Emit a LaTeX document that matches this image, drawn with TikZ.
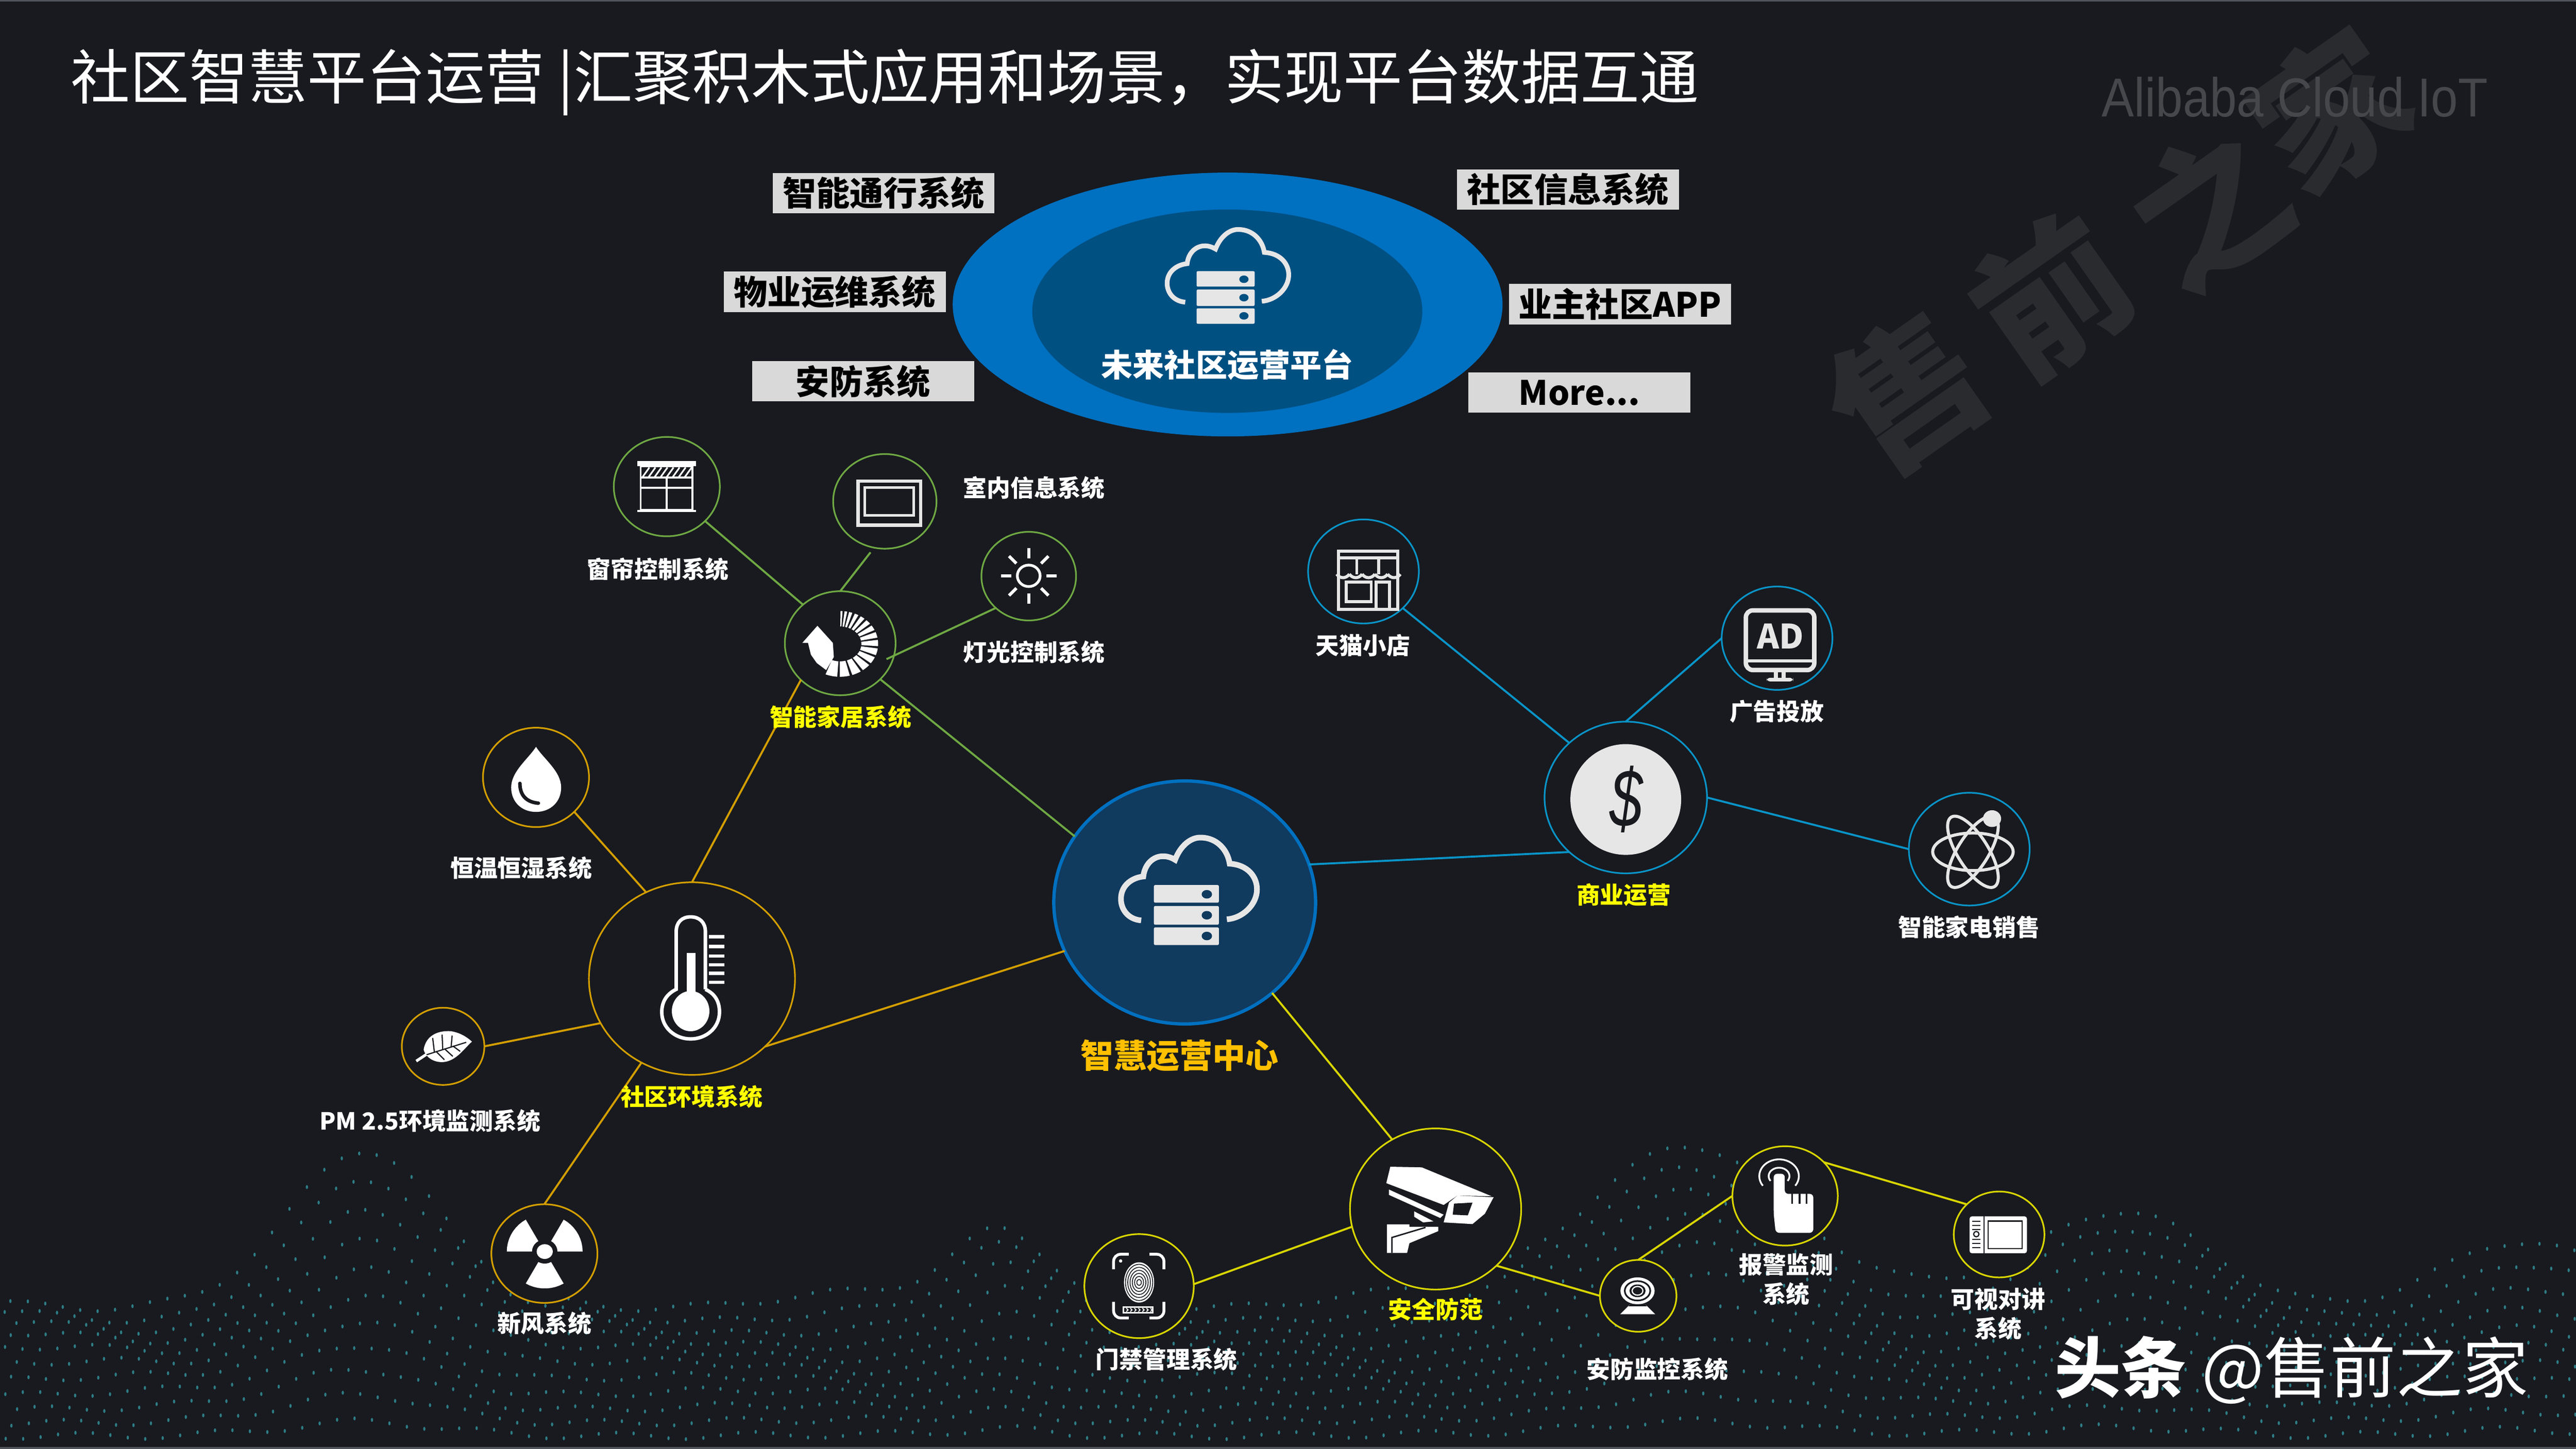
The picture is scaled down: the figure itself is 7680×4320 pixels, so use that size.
\documentclass[tikz,border=0pt]{standalone}
\usepackage{fontspec}
\usepackage{graphicx}
\usetikzlibrary{shapes.geometric}
\setmainfont{Noto Sans CJK SC}
\newfontfamily\latinf{Liberation Sans}
\definecolor{bgc}{HTML}{181A1F}
\definecolor{topblue}{HTML}{0070C0}
\definecolor{topin}{HTML}{005082}
\definecolor{cenfill}{HTML}{103A5E}
\definecolor{boxc}{HTML}{D9D9D9}
\definecolor{grn}{HTML}{6FA843}
\definecolor{org}{HTML}{D39E00}
\definecolor{blu}{HTML}{0A94C8}
\definecolor{ylw}{HTML}{D9D500}
\definecolor{lab}{HTML}{FFFF00}
\definecolor{gold}{HTML}{FFC000}
\definecolor{icw}{HTML}{E6E6E6}
\definecolor{wmc}{HTML}{2A2B2F}
\definecolor{alic}{HTML}{45474B}
\definecolor{dotc}{HTML}{2E7C85}
\definecolor{edgec}{HTML}{50535A}
\tikzset{
  ell/.style 2 args={ellipse,inner sep=0pt,outer sep=0pt,minimum width=#1*0.02cm,minimum height=#2*0.02cm,fill=bgc},
  ngrn/.style={draw=grn,line width=1.4pt},
  norg/.style={draw=org,line width=1.4pt},
  nblu/.style={draw=blu,line width=1.4pt},
  nylw/.style={draw=ylw,line width=1.4pt},
  cgrn/.style={draw=grn,line width=1.7pt},
  corg/.style={draw=org,line width=1.7pt},
  cblu/.style={draw=blu,line width=1.7pt},
  cylw/.style={draw=ylw,line width=1.7pt},
  boxlab/.style={fill=boxc,text=black,inner sep=0pt,minimum width=6.61cm,minimum height=1.2cm,font=\fontsize{28.5}{32}\selectfont\bfseries},
  whitelab/.style={text=white,inner sep=0pt,align=center,font=\fontsize{20}{24.5}\selectfont\bfseries},
  yellab/.style={text=lab,inner sep=0pt,align=center,font=\fontsize{20}{24.5}\selectfont\bfseries},
  wm/.style={text=wmc,inner sep=0pt,font=\fontsize{126}{126}\selectfont\bfseries},
  graystroke/.style={draw=icw,line width=2.6pt},
  declare function={gs(\x,\m,\s)=exp(max(-8,0-((\x-\m)/\s)*((\x-\m)/\s)));}
}
\newcommand\wdg[9][white]{\fill[#1] plot[domain=#8:#9,samples=10] ({#2+#4*cos(\x)},{#3-#5*sin(\x)}) -- plot[domain=#9:#8,samples=6] ({#2+#6*cos(\x)},{#3-#7*sin(\x)}) -- cycle;}
\newcommand\cloudicon[6]{%
  \begin{scope}[shift={(#1,#2)},xscale=#3,yscale=#4]
    \draw[icw,line width=#6]
      (-192,25) .. controls (-250,20) and (-280,-30) .. (-278,-80)
      .. controls (-276,-140) and (-230,-175) .. (-183,-180)
      .. controls (-175,-260) and (-110,-300) .. (-48,-258)
      .. controls (-25,-325) and (20,-365) .. (64,-362)
      .. controls (130,-360) and (175,-305) .. (184,-240)
      .. controls (260,-235) and (300,-180) .. (300,-120)
      .. controls (300,-50) and (240,15) .. (172,20);
    \foreach \ya/\yb/\yc in {-140/-58/-97,-42/45/1,58/140/98}{
      \fill[icw,rounded corners=1pt] (-138,\ya) rectangle (138,\yb);
      \fill[#5] (87,\yc) ellipse (22 and 20);
    }
  \end{scope}}
\begin{document}
\begin{tikzpicture}[x=0.01cm,y=-0.01cm]
\useasboundingbox (0,0) rectangle (7680,4320);
\fill[bgc] (0,0) rectangle (7680,4320);
\fill[edgec] (0,0) rectangle (7680,5);
\fill[edgec] (0,4314) rectangle (7680,4320);
% dotted terrain
\foreach \j in {1,...,11}{
  \foreach \i in {0,...,147}{
    \pgfmathsetmacro\X{\i*52+mod(\j*17,52)}
    \pgfmathsetmacro\E{470+430*gs(\X,1084,300)+200*gs(\X,2990,180)+500*gs(\X,5050,420)+260*gs(\X,6350,350)+150*gs(\X,7500,300)}
    \pgfmathsetmacro\Y{4320-\E*\j/11.5+30*sin(\X*0.22+\j*35)*\j/11+10*sin(\X*0.9+\j*50)}
    \fill[dotc] (\X,\Y) ellipse (3.5 and 6);
  }
}
% watermark
\node[wm,rotate=35] (wma) at (5684,1167) {售};
\node[wm,rotate=35] (wmb) at (6115,880) {前};
\node[wm,rotate=35] (wmc) at (6585,617) {之};
\node[wm,rotate=35] (wmd) at (6945,330) {家};
\node[text=alic,inner sep=0pt,anchor=center] (ali) at (6842,290) {\latinf\fontsize{46.5}{50}\selectfont\scalebox{.885}[1]{Alibaba Cloud IoT}};
% title
\node[text=white,inner sep=0pt,anchor=west] (title) at (210,245) {\fontsize{50.2}{56}\selectfont 社区智慧平台运营 |汇聚积木式应用和场景，实现平台数据互通};
% top platform
\node[ell={819}{393},fill=topblue] (plato) at (3660,908) {};
\node[ell={581}{303},fill=topin] (plati) at (3659,928) {};
\cloudicon{3654}{887}{.627}{.56}{topin}{4pt}
\node[text=white,inner sep=0pt,font=\fontsize{26.7}{30}\selectfont\bfseries] (platl) at (3659,1088) {未来社区运营平台};
\node[boxlab] (ba) at (2634.5,576) {智能通行系统};
\node[boxlab] (bb) at (4674.5,565) {社区信息系统};
\node[boxlab] (bc) at (2489,870) {物业运维系统};
\node[boxlab] (bd) at (4829.5,907) {业主社区APP};
\node[boxlab] (be) at (2573.5,1137) {安防系统};
\node[boxlab] (bf) at (4709,1171) {More...};
% central
\node[ell={390}{362},fill=cenfill,draw=topblue,line width=2.8pt] (center) at (3532,2691) {};
% nodes
\node[ell={158}{148},ngrn] (curtain) at (1988,1451) {};
\node[ell={154}{141},ngrn] (indoor) at (2638,1495) {};
\node[ell={141}{132},ngrn] (light) at (3067,1718) {};
\node[ell={165}{155},ngrn] (home) at (2505,1918) {};
\node[ell={307}{287},norg] (env) at (2063,2918) {};
\node[ell={158}{148},norg] (humid) at (1598,2318) {};
\node[ell={123}{115},norg] (pm) at (1321,3120) {};
\node[ell={158}{147},norg] (fresh) at (1623,3738) {};
\node[ell={165}{155},nblu] (shop) at (4065,1704) {};
\node[ell={165}{154},nblu] (ad) at (5298,1903) {};
\node[ell={242}{226},nblu] (biz) at (4847,2378) {};
\node[ell={180}{168},nblu] (appl) at (5871,2532) {};
\node[ell={255}{240},nylw] (sec) at (4280,3605) {};
\node[ell={163}{155},nylw] (door) at (3396,3835) {};
\node[ell={114}{107},nylw] (cam) at (4884,3864) {};
\node[ell={157}{148},nylw] (alarm) at (5322,3566) {};
\node[ell={135}{128},nylw] (intc) at (5960,3681) {};
% connectors
\draw[cgrn] (curtain.-42.6) -- (home.134);
\draw[cgrn,shorten <=5pt] (indoor.-103) -- (home.90);
\draw[cgrn,shorten >=-7pt] (light.-136.5) -- (home.-13.6);
\draw[cgrn] (home.-42.8) -- (center.149.7);
\draw[corg] (env.90) -- (home.-137);
\draw[corg] (humid.-42.3) -- (env.118.5);
\draw[corg] (pm.0) -- (env.-154.6);
\draw[corg] (fresh.90) -- (env.-121.9);
\draw[corg] (env.-43) -- (center.-158.1);
\draw[cblu] (shop.-43.3) -- (biz.136.9);
\draw[cblu] (ad.180) -- (biz.90);
\draw[cblu] (biz.0) -- (appl.180);
\draw[cblu] (center.17.6) -- (biz.-136.9);
\draw[cylw] (center.-46.5) -- (sec.122.8);
\draw[cylw] (door.2.5) -- (sec.-168);
\draw[cylw] (sec.-43.2) -- (cam.180);
\draw[cylw] (cam.90) -- (alarm.180);
\draw[cylw] (alarm.41) -- (intc.137);
% central cloud
\cloudicon{3537}{2728.5}{.7015}{.638}{cenfill}{4.8pt}
% curtain icon
\fill[white] (1900,1374) rectangle (2075,1390);
\fill[white] (1900,1521) rectangle (2075,1526);
\draw[white,line width=1.7pt] (1910,1390) rectangle (2065,1521);
\draw[white,line width=1.7pt] (1910,1424) -- (2065,1424) (1910,1455) -- (2065,1455) (1987,1424) -- (1987,1521);
\foreach \h in {1916,1934,...,2044}{\draw[white,line width=1.4pt] (\h,1422) -- (\h+20,1394);}
% screen icon
\draw[icw,line width=2.8pt] (2558,1435) rectangle (2745,1566);
\draw[icw,line width=2.4pt] (2578,1454) rectangle (2724,1537);
% sun icon
\draw[white,line width=2.3pt] (3067,1717) ellipse (34 and 32);
\foreach \a in {0,45,...,315}{\draw[white,line width=2.6pt] ({3067+52*cos(\a)},{1717-52*sin(\a)}) -- ({3067+83*cos(\a)},{1717-83*sin(\a)});}
% smart home icon
\foreach \sa/\sb in {248/266,270/285,289/303,307/320,324/336,340/352,356/367,371/381,385/394,398/406,410/417,421/427,431/436,439/443,446/449}{
  \wdg{2504}{1920}{114}{98}{64}{52}{\sa}{\sb}
}
\fill[white] (2409,1917) -- (2417.5,1952) -- (2435,1977) -- (2463,1998) -- (2486,1959) -- (2483,1917) -- cycle;
\fill[white] (2392,1917) -- (2437,1866) -- (2483,1917) -- cycle;
% drop icon
\fill[white] (1598,2227) .. controls (1620,2262) and (1673,2300) .. (1673,2348) .. controls (1673,2392) and (1640,2421) .. (1598,2421) .. controls (1556,2421) and (1524,2392) .. (1524,2348) .. controls (1524,2300) and (1576,2262) .. (1598,2227) -- cycle;
\draw[bgc,line width=3pt,line cap=round] (1550,2336) .. controls (1550,2372) and (1570,2392) .. (1605,2395);
% thermometer
\draw[white,line width=3pt] (2103,2950) -- (2103,2778) .. controls (2103,2750) and (2085,2734) .. (2059,2734) .. controls (2033,2734) and (2016,2750) .. (2016,2778) -- (2016,2950) .. controls (1985,2965) and (1973,2990) .. (1973,3018) .. controls (1973,3065) and (2013,3098) .. (2059,3098) .. controls (2105,3098) and (2145,3065) .. (2145,3018) .. controls (2145,2990) and (2135,2965) .. (2103,2950);
\fill[white] (2047,2842) rectangle (2074,2970);
\fill[white] (2059,3015) ellipse (56 and 60);
\foreach \ty in {2793,2822,2851,2877,2902,2929}{\fill[white] (2114,\ty-5) rectangle (2160,\ty+5);}
% leaf
\draw[white,line width=2.4pt] (1241,3164) -- (1285,3135);
\fill[white] (1263,3130) .. controls (1270,3085) and (1310,3072) .. (1345,3075) .. controls (1375,3080) and (1395,3095) .. (1407,3106) .. controls (1385,3125) and (1360,3165) .. (1320,3167) .. controls (1295,3168) and (1270,3155) .. (1263,3130) -- cycle;
\draw[bgc,line width=1pt] (1272,3145) -- (1390,3108);
\foreach \va/\vb/\vc/\vd in {1295/3137/1290/3095,1320/3129/1318/3085,1345/3121/1348/3088,1300/3135/1325/3160,1325/3127/1350/3150,1350/3119/1372/3135}{\draw[bgc,line width=1pt] (\va,\vb) -- (\vc,\vd);}
% radiation
\fill[white] (1624,3732) ellipse (24 and 22);
\wdg{1624}{3732}{113}{110}{38}{36}{0}{60}
\wdg{1624}{3732}{113}{110}{38}{36}{120}{180}
\wdg{1624}{3732}{113}{110}{38}{36}{240}{300}
% shop icon
\draw[graystroke] (3991,1663) -- (3991,1817) -- (4167,1817) -- (4167,1663);
\draw[graystroke] (3991,1643) rectangle (4167,1663);
\draw[graystroke] (4045,1663) -- (4045,1712) (4111,1663) -- (4111,1712);
\foreach \s in {3985,4023,4061,4099,4137}{\draw[graystroke] (\s,1712) .. controls (\s+10,1726) and (\s+28,1726) .. (\s+38,1712);}
\draw[graystroke] (4014,1736) rectangle (4088,1794);
\draw[graystroke] (4103,1817) -- (4103,1736) -- (4143,1736) -- (4143,1817);
% AD icon
\draw[icw,line width=3.8pt,rounded corners=6pt] (5205,1820) rectangle (5409,1998);
\draw[icw,line width=2.8pt] (5205,1971) -- (5409,1971);
\fill[icw] (5288,2000) rectangle (5300,2021);
\fill[icw] (5312,2000) rectangle (5324,2021);
\fill[icw,rounded corners=3pt] (5267,2021) rectangle (5346,2032);
\node[text=icw,inner sep=0pt,font=\fontsize{28.5}{30}\selectfont\bfseries] (adt) at (5308,1897) {AD};
% dollar disc
\node[ell={165}{165},fill=icw] (disc) at (4847,2384) {};
\node[text=bgc,inner sep=0pt] (dollar) at (4848,2383) {\latinf\itshape\fontsize{70}{72}\selectfont\scalebox{.72}[1]{\$}};
% atom
\begin{scope}[icw,line width=2.6pt]
\draw (5882,2540) ellipse (120 and 56);
\draw[rotate around={58:(5882,2540)}] (5882,2540) ellipse (122 and 46);
\draw[rotate around={-58:(5882,2540)}] (5882,2540) ellipse (122 and 46);
\end{scope}
\fill[icw] (5939,2441) ellipse (27 and 25);
% camera
\fill[white] (4145,3479) -- (4239,3481) -- (4447,3567) -- (4345,3565) -- (4304,3593) -- (4133,3528) -- cycle;
\fill[white] (4345,3565) -- (4453,3570) -- (4427,3619) -- (4390,3650) -- (4304,3645) -- (4320,3586) -- cycle;
\fill[bgc] (4335,3589) -- (4390,3586) -- (4376,3624) -- (4331,3622) -- cycle;
\fill[white] (4141,3547) -- (4304,3622) -- (4294,3632) -- (4141,3563) -- cycle;
\fill[white] (4216,3612) -- (4274,3642) -- (4243,3645) -- (4216,3628) -- cycle;
\fill[white] (4135,3651) -- (4202,3651) -- (4202,3658) -- (4288,3658) -- (4288,3671) -- (4202,3707) -- (4195,3736) -- (4135,3736) -- cycle;
\draw[bgc,line width=1.2pt] (4150,3736) -- (4150,3690) -- (4250,3660);
% fingerprint
\fill[white] (3396,3824) ellipse (45 and 60);
\foreach \k in {.15,.3,.45,.6,.75,.9}{\draw[bgc,line width=.7pt] (3396,3824) ellipse ({45*\k} and {60*\k});}
\begin{scope}[white,line width=2.4pt,rounded corners=6pt]
\draw (3320,3785) -- (3320,3740) -- (3365,3740);
\draw (3427,3740) -- (3470,3740) -- (3470,3785);
\draw (3320,3882) -- (3320,3930) -- (3365,3930);
\draw (3427,3930) -- (3470,3930) -- (3470,3882);
\end{scope}
\fill[white] (3341,3760) ellipse (5 and 5);
\draw[white,line width=1.2pt] (3349,3898) rectangle (3437,3915);
\foreach \h in {3358,3370,...,3430}{\draw[white,line width=.8pt] (\h,3901) -- (\h+5,3906) -- (\h,3911);}
% webcam
\fill[white] (4882,3849) ellipse (51 and 40);
\draw[bgc,line width=1.4pt] (4882,3849) ellipse (38 and 29);
\fill[bgc] (4882,3849) ellipse (24 and 19);
\draw[white,line width=1pt] (4882,3849) ellipse (16 and 13);
\fill[white] (4860,3889) -- (4905,3889) -- (4935,3919) -- (4830,3919) -- cycle;
\fill[bgc] (4860,3889) -- (4905,3889) -- (4910,3895) -- (4855,3895) -- cycle;
% alarm
\draw[white,line width=1.5pt] plot[domain=-35:215,samples=30] ({5304+59*cos(\x)},{3507-50*sin(\x)});
\draw[white,line width=1.5pt] plot[domain=-35:215,samples=30] ({5304+31*cos(\x)},{3507-25*sin(\x)});
\fill[white,rounded corners=3pt] (5294,3676) -- (5288,3620) -- (5288,3500) -- (5321,3500) -- (5321,3560) -- (5406,3560) -- (5406,3676) -- cycle;
\draw[bgc,line width=1.6pt] (5343,3555) -- (5343,3590) (5365,3555) -- (5365,3590) (5386,3555) -- (5386,3590);
% intercom
\fill[white,rounded corners=2pt] (5872,3627) rectangle (6043,3737);
\draw[bgc,line width=1.1pt] (5927,3641) rectangle (6029,3723);
\draw[bgc,line width=1.1pt] (5915,3627) -- (5915,3737);
\foreach \ty in {3642,3654,3666,3696,3708,3720}{\draw[bgc,line width=1pt] (5880,\ty) -- (5905,\ty);}
\draw[bgc,line width=1pt] (5892,3680) ellipse (8 and 8);
% labels
\node[whitelab] (lcurtain) at (1962,1697) {窗帘控制系统};
\node[whitelab] (lindoor) at (3083,1454) {室内信息系统};
\node[whitelab] (llight) at (3083,1945) {灯光控制系统};
\node[yellab] (lhome) at (2506,2138) {智能家居系统};
\node[whitelab] (lhumid) at (1554,2588) {恒温恒湿系统};
\node[yellab] (lenv) at (2062,3270) {社区环境系统};
\node[whitelab] (lpm) at (1282,3342) {PM 2.5环境监测系统};
\node[whitelab] (lfresh) at (1623,3946) {新风系统};
\node[whitelab] (lshop) at (4063,1924) {天猫小店};
\node[whitelab] (lad) at (5297,2122) {广告投放};
\node[yellab] (lbiz) at (4841,2669) {商业运营};
\node[whitelab] (lappl) at (5870,2764) {智能家电销售};
\node[yellab] (lsec) at (4280,3905) {安全防范};
\node[whitelab] (ldoor) at (3478,4053) {门禁管理系统};
\node[whitelab] (lcam) at (4941,4083) {安防监控系统};
\node[whitelab] (lalarm) at (5325,3815) {报警监测\\系统};
\node[whitelab] (lintc) at (5957,3918) {可视对讲\\系统};
\node[text=gold,inner sep=0pt,font=\fontsize{28}{32}\selectfont\bfseries] (lcenter) at (3517,3148) {智慧运营中心};
\node[text=white,inner sep=0pt,font=\fontsize{56}{60}\selectfont] (brand) at (6832,4085) {\textbf{头条} @售前之家};
\end{tikzpicture}
\end{document}
